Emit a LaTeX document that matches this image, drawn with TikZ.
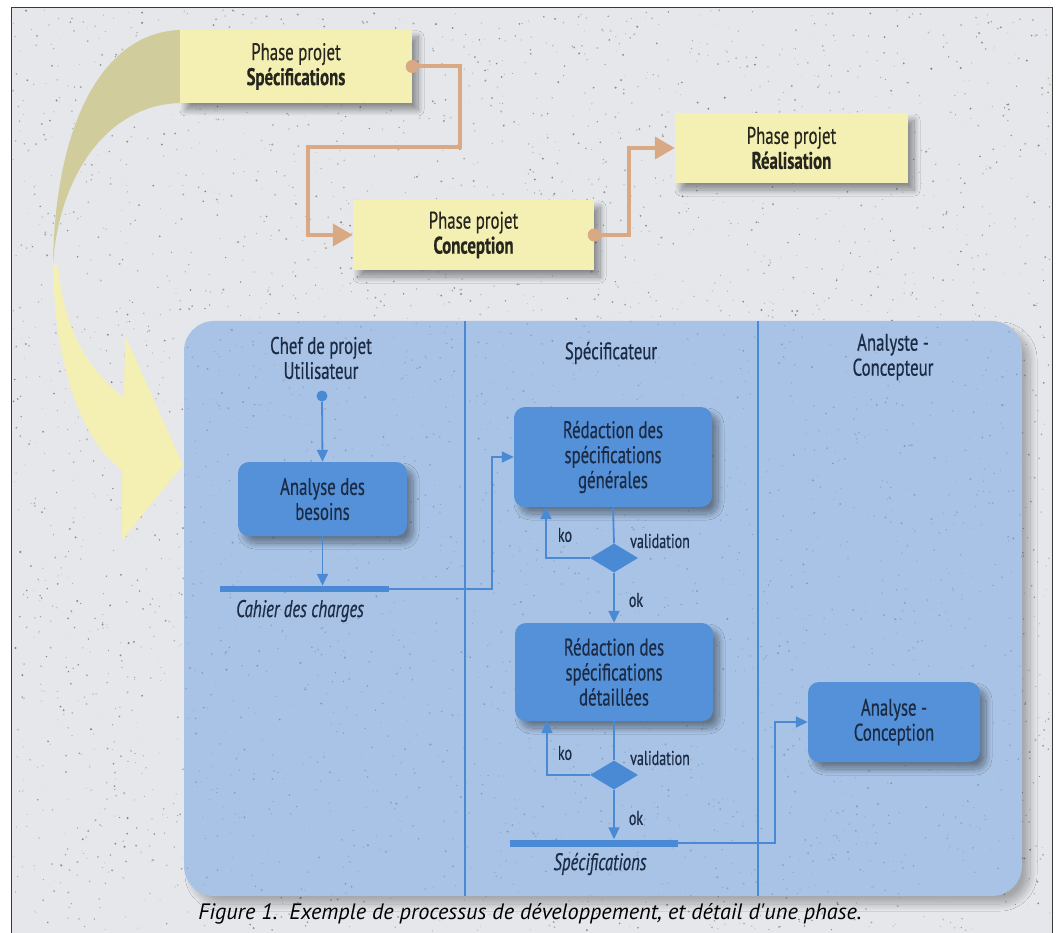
\documentclass[tikz,border=0pt]{standalone}
\usepackage{fontspec}
\setmainfont{PT Sans}[FakeStretch=0.7, FakeBold=0.5]
\newfontfamily\capfont{PT Sans}
\usetikzlibrary{arrows.meta,shapes.geometric,shadows.blur,calc}

\definecolor{paper}{HTML}{E5E7EB}
\definecolor{framecol}{HTML}{3A3A3A}
\definecolor{phase}{HTML}{F4EFB3}
\definecolor{olivedark}{HTML}{D0CC9B}
\definecolor{tanline}{HTML}{D8A983}
\definecolor{panel}{HTML}{A8C3E5}
\definecolor{laneblue}{HTML}{4A8AD4}
\definecolor{act}{HTML}{5491D8}
\definecolor{navy}{HTML}{1C2B45}
\definecolor{ink}{HTML}{26261E}

\tikzset{
  softshadow/.style={blur shadow={shadow xshift=6pt, shadow yshift=-7pt,
    shadow blur radius=6pt, shadow blur steps=16, shadow opacity=40}},
  txt/.style={font=\fontsize{24}{25}\selectfont},
  small/.style={font=\fontsize{20}{22}\selectfont, text=navy, inner sep=0},
  phasebox/.style={fill=phase, inner sep=0, align=center, text=ink, txt, softshadow},
  actbox/.style={fill=act, rounded corners=11pt, inner sep=0, align=center, text=navy, txt, softshadow},
  header/.style={txt, text=navy, align=center, inner sep=0},
  syncbar/.style={fill=laneblue, inner sep=0, draw=none},
  decision/.style={diamond, fill=laneblue, inner sep=0, minimum width=48pt, minimum height=29pt},
  startdot/.style={circle, fill=laneblue, inner sep=0, minimum size=11pt},
  flow/.style={draw=laneblue, line width=1.8pt, -{Triangle[length=12pt,width=11pt]}},
  plainflow/.style={draw=laneblue, line width=1.8pt},
  phaselink/.style={draw=tanline, line width=4pt, -{Triangle[length=20pt,width=22pt]}},
}

\begin{document}
\begin{tikzpicture}[x=1pt,y=-1pt]
  \useasboundingbox (0,0) rectangle (1058,933);
  \fill[white] (0,0) rectangle (1058,933);

  % textured paper inside the frame
  \fill[paper] (11,8) rectangle (1052,933);
  \pgfmathsetseed{4217}
  \foreach \i in {1,...,4200}{
    \pgfmathsetmacro\px{13+1037*rnd}
    \pgfmathsetmacro\py{10+921*rnd}
    \pgfmathsetmacro\pr{0.35+0.8*rnd}
    \pgfmathtruncatemacro\pg{10+35*rnd}
    \fill[black!\pg!paper] (\px,\py) circle (\pr);
  }
  \draw[framecol, line width=1pt] (11,933) -- (11,8) -- (1052,8) -- (1052,933);

  % ribbon arrow from the first phase down to its detail
  \fill[olivedark] (183,30) .. controls (105,30) and (55,120) .. (53,265)
        .. controls (58,180) and (105,103) .. (183,103) -- cycle;
  \fill[phase] (53,265) .. controls (54,360) and (80,440) .. (122,470)
        -- (122,540) -- (183,465) -- (125,335) -- (124,398)
        .. controls (88,370) and (64,330) .. (58,265) -- cycle;

  % project phases
  \node[phasebox, minimum width=232pt, minimum height=73pt] (spec) at (296,66.5)
    {Phase projet\\\textbf{Spécifications}};
  \node[phasebox, minimum width=241pt, minimum height=70pt] (conc) at (473.5,235)
    {Phase projet\\\textbf{Conception}};
  \node[phasebox, minimum width=233pt, minimum height=70pt] (real) at (791.5,148)
    {Phase projet\\\textbf{Réalisation}};

  \draw[phaselink] (spec.east) -- (460,66.5) -- (460,147) -- (308,147) -- (308,235) -- (conc.west);
  \draw[phaselink] (conc.east) -- (629,235) |- (real.west);
  \fill[tanline] (spec.east) circle (6.5);
  \fill[tanline] (conc.east) circle (6.5);

  % swimlane panel
  \fill[panel, rounded corners=30pt,
    blur shadow={shadow xshift=8pt, shadow yshift=-8pt, shadow blur radius=7pt,
      shadow blur steps=16, shadow opacity=28}]
    (184,321) rectangle (1022,896);
  \begin{scope}
    \clip[rounded corners=30pt] (184,321) rectangle (1022,896);
    \pgfmathsetseed{977}
    \foreach \i in {1,...,1800}{
      \pgfmathsetmacro\px{184+838*rnd}
      \pgfmathsetmacro\py{321+575*rnd}
      \pgfmathsetmacro\pr{0.35+0.8*rnd}
      \pgfmathtruncatemacro\pg{8+22*rnd}
      \fill[navy!\pg!panel] (\px,\py) circle (\pr);
    }
  \end{scope}
  \draw[laneblue, line width=1.5pt] (465,321) -- (465,896);
  \draw[laneblue, line width=1.5pt] (758,321) -- (758,896);

  \node[header] (lane1) at (321,358) {Chef de projet\\Utilisateur};
  \node[header] (lane2) at (611,353) {Spécificateur};
  \node[header] (lane3) at (893,357) {Analyste -\\Concepteur};

  % activities
  \node[startdot] (start) at (322,396) {};
  \node[actbox, minimum width=169pt, minimum height=74pt] (ab) at (322.5,499)
    {Analyse des\\besoins};
  \node[syncbar, minimum width=169pt, minimum height=6pt] (bar1) at (304.5,589) {};
  \node[txt, text=navy, inner sep=0] (cdc) at (300,611) {\itshape Cahier des charges};

  \node[actbox, minimum width=198pt, minimum height=100pt] (rg) at (613,457)
    {Rédaction des\\spécifications\\générales};
  \node[decision] (d1) at (614,558) {};
  \node[actbox, minimum width=198pt, minimum height=98pt] (rd) at (614,672)
    {Rédaction des\\spécifications\\détaillées};
  \node[decision] (d2) at (614,775) {};
  \node[syncbar, minimum width=168pt, minimum height=7pt] (bar2) at (594,843) {};
  \node[txt, text=navy, inner sep=0] (spc) at (600,864) {\itshape Spécifications};

  \node[actbox, minimum width=172pt, minimum height=80pt] (ac) at (894,722)
    {Analyse -\\Conception};

  % flows
  \draw[flow] (start) -- (ab.north);
  \draw[flow] (ab.south) -- (ab.south |- bar1.north);
  \draw[flow] (bar1.east) -- ++(103,0) |- (rg.west);
  \draw[plainflow] (rg.south) -- (d1.north);
  \draw[flow] (d1.west) -| ([xshift=-67pt]rg.south);
  \draw[flow] (d1.south) -- (rd.north);
  \draw[plainflow] (rd.south) -- (d2.north);
  \draw[flow] (d2.west) -| ([xshift=-67pt]rd.south);
  \draw[flow] (d2.south) -- (d2.south |- bar2.north);
  \draw[flow] (bar2.east) -- ++(97,0) |- (ac.west);

  % guard labels
  \node[small, anchor=center] (ko1) at (565,535) {ko};
  \node[small, anchor=west] (val1) at (630,541) {validation};
  \node[small, anchor=center] (ok1) at (636,600) {ok};
  \node[small, anchor=center] (ko2) at (565,753) {ko};
  \node[small, anchor=west] (val2) at (630,758) {validation};
  \node[small, anchor=center] (ok2) at (636,818) {ok};

  % caption
  \node[inner sep=0, text=black, font=\capfont\itshape\fontsize{22.3}{24}\selectfont] (caption) at (530,914)
    {Figure 1.\ \ Exemple de processus de développement, et détail d'une phase.};
\end{tikzpicture}
\end{document}
